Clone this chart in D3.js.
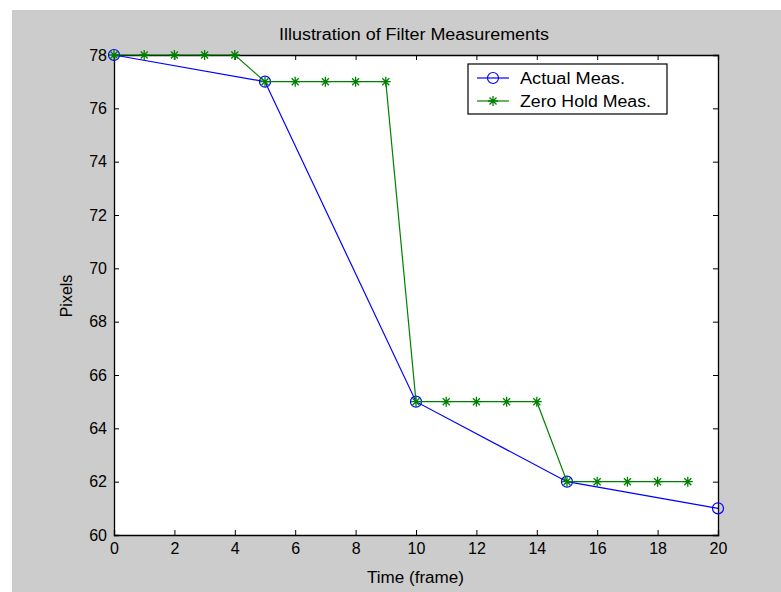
<!DOCTYPE html>
<html><head><meta charset="utf-8">
<script src="https://cdn.jsdelivr.net/npm/d3@7"></script>
<style>body{margin:0;background:#fff}svg{display:block}text{font-family:"Liberation Sans",Arial,sans-serif;fill:#000}</style>
</head><body><svg id="c" width="781" height="592"></svg>
<script>
const actualX = [0, 5, 10, 15, 20];
const actualY = [78, 77, 65, 62, 61];
const holdX = [0,1,2,3,4,5,6,7,8,9,10,11,12,13,14,15,16,17,18,19];
const holdY = [78,78,78,78,78,77,77,77,77,77,65,65,65,65,65,62,62,62,62,62];
const xTicks = [0,2,4,6,8,10,12,14,16,18,20];
const yTicks = [60,62,64,66,68,70,72,74,76,78];
const seriesNames = ["Actual Meas.", "Zero Hold Meas."];

const svg = d3.select("#c");
svg.append("rect").attr("x",12).attr("y",10).attr("width",769).attr("height",582).attr("fill","#cccccc");
const L=114, R=718, T=55, B=535;
const x = d3.scaleLinear().domain([0,20]).range([L,R]);
const y = d3.scaleLinear().domain([60,78]).range([B,T]);
svg.append("rect").attr("x",L).attr("y",T).attr("width",R-L).attr("height",B-T).attr("fill","#fff");

const FS = 16;
const g = svg.append("g");
const tl = 5;
const bx = g.append("g").attr("transform",`translate(0,${B})`).call(d3.axisBottom(x).tickValues(xTicks).tickSize(-tl).tickPadding(8));
const tx = g.append("g").attr("transform",`translate(0,${T})`).call(d3.axisTop(x).tickValues(xTicks).tickSize(-tl).tickFormat(""));
const ly = g.append("g").attr("transform",`translate(${L},0)`).call(d3.axisLeft(y).tickValues(yTicks).tickSize(-tl).tickPadding(7));
const ry = g.append("g").attr("transform",`translate(${R},0)`).call(d3.axisRight(y).tickValues(yTicks).tickSize(-tl).tickFormat(""));
[bx,tx,ly,ry].forEach(a=>{
  a.selectAll("path").attr("stroke","#000").attr("stroke-width",1.3);
  a.selectAll("line").attr("stroke","#000");
  a.selectAll("text").attr("font-size",FS).attr("font-family","Liberation Sans, Arial, sans-serif").attr("fill","#222");
});

const line = d3.line().x(d=>x(d[0])).y(d=>y(d[1]));
const aData = actualX.map((v,i)=>[v,actualY[i]]);
const hData = holdX.map((v,i)=>[v,holdY[i]]);
g.append("path").datum(aData).attr("d",line).attr("fill","none").attr("stroke","#0000ff").attr("stroke-width",1.2);
g.selectAll(".ca").data(aData).enter().append("circle").attr("cx",d=>x(d[0])).attr("cy",d=>y(d[1])).attr("r",5.5).attr("fill","none").attr("stroke","#0000ff").attr("stroke-width",1.2);
g.append("path").datum(hData).attr("d",line).attr("fill","none").attr("stroke","#008000").attr("stroke-width",1.2);
function star(sel, cx, cy, s){
  const p = `M${cx-s},${cy}L${cx+s},${cy}M${cx},${cy-s}L${cx},${cy+s}M${cx-s*0.7},${cy-s*0.7}L${cx+s*0.7},${cy+s*0.7}M${cx-s*0.7},${cy+s*0.7}L${cx+s*0.7},${cy-s*0.7}`;
  sel.append("path").attr("d",p).attr("stroke","#008000").attr("stroke-width",1.3).attr("fill","none");
}
hData.forEach(d=>star(g, x(d[0]), y(d[1]), 5));

svg.append("text").attr("x",279).attr("y",40).attr("font-size",FS).attr("textLength",270).attr("lengthAdjust","spacingAndGlyphs").attr("fill","#222").text("Illustration of Filter Measurements");
svg.append("text").attr("x",367).attr("y",583).attr("font-size",FS).attr("textLength",97).attr("lengthAdjust","spacingAndGlyphs").attr("fill","#222").text("Time (frame)");
svg.append("text").attr("transform","translate(72,296) rotate(-90)").attr("text-anchor","middle").attr("font-size",FS).attr("fill","#222").text("Pixels");

const lg = svg.append("g");
lg.append("rect").attr("x",468).attr("y",64).attr("width",199).attr("height",50).attr("fill","#fff").attr("stroke","#000").attr("stroke-width",1.2);
const rows=[78,101];
lg.append("line").attr("x1",477).attr("x2",509).attr("y1",rows[0]).attr("y2",rows[0]).attr("stroke","#0000ff").attr("stroke-width",1.2);
lg.append("circle").attr("cx",493).attr("cy",rows[0]).attr("r",5.5).attr("fill","none").attr("stroke","#0000ff").attr("stroke-width",1.2);
lg.append("line").attr("x1",477).attr("x2",509).attr("y1",rows[1]).attr("y2",rows[1]).attr("stroke","#008000").attr("stroke-width",1.2);
star(lg,493,rows[1],5);
const legW=[105,131];
seriesNames.forEach((n,i)=>lg.append("text").attr("x",520).attr("y",rows[i]+6).attr("font-size",FS).attr("textLength",legW[i]).attr("lengthAdjust","spacingAndGlyphs").attr("fill","#222").text(n));
</script></body></html>
